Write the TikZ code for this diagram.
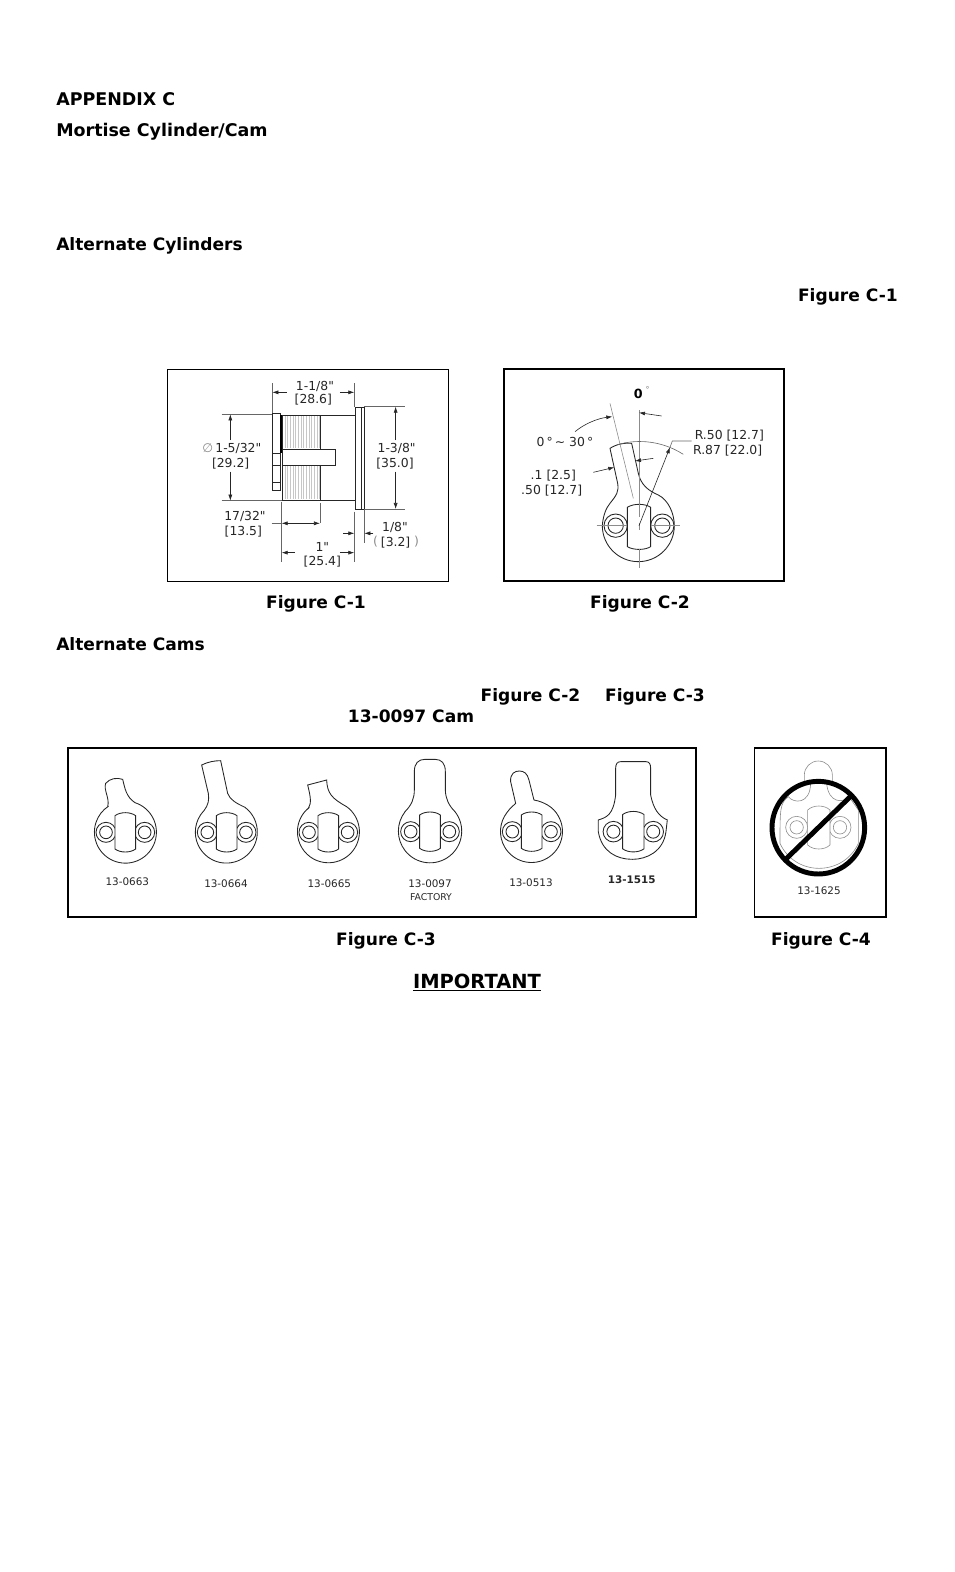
\documentclass[tikz,border=0pt]{standalone}
\usepackage{fontspec}
\setmainfont{DejaVu Sans}
\newfontfamily\dimfont{DejaVu Sans}
\usetikzlibrary{arrows.meta}
\tikzset{
	headtext/.style={font=\fontsize{12.8}{15}\selectfont\bfseries, inner sep=0pt},
	bighead/.style={font=\fontsize{13.1}{15}\selectfont\bfseries, inner sep=0pt},
	dimtext/.style={font=\dimfont\fontsize{9.3}{11}\selectfont, text=black!85, inner sep=0pt},
	camtext/.style={font=\fontsize{7.8}{9}\selectfont, text=black!85, inner sep=0pt},
	frameline/.style={draw=black, line width=1.1pt},
	partline/.style={draw=black!85, line width=0.65pt},
	dimline/.style={draw=black!60, line width=0.45pt},
	dimarrow/.style={draw=black!85, line width=0.45pt, -{Latex[length=4.5pt,width=3pt]}},
	hairline/.style={draw=black!45, line width=0.45pt},
	camcore/.pic={
		\draw[partline] (-58,0) circle [radius=30];
		\draw[partline] (-58,0) circle [radius=19];
		\draw[partline] (58,0) circle [radius=30];
		\draw[partline] (58,0) circle [radius=19];
		\draw[partline, fill=white] (-31,-50) .. controls (-15,-62) and (15,-62) .. (31,-50) -- (31,50) .. controls (15,62) and (-15,62) .. (-31,50) -- cycle;
	}
}

\begin{document}
\begin{tikzpicture}[x=0.75pt, y=-0.75pt]
	\useasboundingbox (0,0) rectangle (954,1572);

	% Page headings
	\node[bighead, anchor=base west] (appendix) at (56,105) {APPENDIX C};
	\node[bighead, anchor=base west] (mortise) at (56,136.5) {Mortise Cylinder/Cam};
	\node[headtext, anchor=base west] (altcyl) at (56,250) {Alternate Cylinders};
	\node[headtext, anchor=base east] (refone) at (898,301) {Figure C-1};
	\node[headtext, anchor=base] (capone) at (316,608) {Figure C-1};
	\node[headtext, anchor=base] (captwo) at (640,608) {Figure C-2};
	\node[headtext, anchor=base west] (altcams) at (56,650) {Alternate Cams};
	\node[headtext, anchor=base] (reftwo) at (530.5,701) {Figure C-2};
	\node[headtext, anchor=base] (refthree) at (655,701) {Figure C-3};
	\node[headtext, anchor=base] (refcam) at (411,722) {13-0097 Cam};
	\node[headtext, anchor=base] (capthree) at (386,945) {Figure C-3};
	\node[headtext, anchor=base] (capfour) at (821,945) {Figure C-4};
	\node[headtext, font=\fontsize{14.6}{17}\selectfont\bfseries, anchor=base] (important) at (477,988) {\underline{IMPORTANT}};

	% Figure C-1, cylinder
	\begin{scope}[shift={(160,360)}, scale=0.3333]
		\draw[frameline] (22,28) rectangle (866,665);
		%threads
		\foreach \tx in {375,383,...,479} {
			\draw[hairline, black!22] (\tx,168) -- (\tx,265);
			\draw[hairline, black!22] (\tx,318) -- (\tx,417);
		}
		%cylinder body
		\draw[partline] (367,165) -- (585,165);
		\draw[partline] (367,420) -- (585,420);
		\draw[partline] (367,165) -- (367,420);
		\draw[partline] (482,165) -- (482,268);
		\draw[partline] (482,315) -- (482,420);
		\draw[partline] (367,268) -- (527,268) -- (527,315) -- (367,315);
		%left flange
		\draw[partline] (337,160) -- (362,160) -- (362,392) -- (337,392) -- cycle;
		\draw[partline] (337,280) -- (362,280);
		\draw[partline] (337,315) -- (362,315);
		\draw[partline] (337,368) -- (362,368);
		\draw[black, line width=1.2pt] (363,165) -- (363,280);
		%right flange
		\draw[partline] (585,142) -- (612,142) -- (612,447) -- (585,447) -- cycle;
		\draw[partline] (605,142) -- (605,447);
		%extension lines
		\draw[dimline] (185,163) -- (337,163);
		\draw[dimline] (185,422) -- (367,422);
		\draw[dimline] (337,70) -- (337,160);
		\draw[dimline] (583,70) -- (583,140);
		\draw[dimline] (612,140) -- (735,140);
		\draw[dimline] (612,447) -- (735,447);
		\draw[dimline] (365,425) -- (365,605);
		\draw[dimline] (480,430) -- (480,490);
		\draw[dimline] (583,455) -- (583,605);
		\draw[dimline] (613,450) -- (613,548);
		%dimension arrows
		\draw[dimarrow] (380,97) -- (337,97);
		\draw[dimarrow] (540,97) -- (583,97);
		\draw[dimarrow] (211,240) -- (211,163);
		\draw[dimarrow] (211,335) -- (211,422);
		\draw[dimarrow] (707,240) -- (707,140);
		\draw[dimarrow] (707,335) -- (707,447);
		\draw[dimline] (335,490) -- (365,490);
		\draw[dimarrow] (420,490) -- (365,490);
		\draw[dimarrow] (420,490) -- (480,490);
		\draw[dimarrow] (405,578) -- (365,578);
		\draw[dimarrow] (540,578) -- (583,578);
		\draw[dimarrow] (550,520) -- (583,520);
		\draw[dimarrow] (640,520) -- (613,520);
		%labels
		\node[dimtext] (widthtop) at (465,78) {1-1/8"};
		\node[dimtext] (widthbot) at (460,120) {[28.6]};
		\node[dimtext, text=black!45] (diasign) at (143,263) {∅};
		\node[dimtext] (diatop) at (235,265) {1-5/32"};
		\node[dimtext] (diabot) at (212,310) {[29.2]};
		\node[dimtext] (flangetop) at (710,265) {1-3/8"};
		\node[dimtext] (flangebot) at (705,310) {[35.0]};
		\node[dimtext] (threadtop) at (255,470) {17/32"};
		\node[dimtext] (threadbot) at (250,515) {[13.5]};
		\node[dimtext] (bodytop) at (487,560) {1"};
		\node[dimtext] (bodybot) at (487,605) {[25.4]};
		\node[dimtext] (thicktop) at (705,503) {1/8"};
		\node[dimtext] (thickbot) at (707,548) {[3.2]};
		\node[dimtext, text=black!45] (thickleft) at (647,545) {(};
		\node[dimtext, text=black!45] (thickright) at (770,545) {)};
	\end{scope}

	% Figure C-2, cam dimensions
	\begin{scope}[shift={(495,360)}, scale=0.3333]
		\draw[frameline, line width=1.4pt] (28,28) rectangle (868,663);
		\draw[partline] (345,430) .. controls (365,405) and (372,395) .. (368,370) -- (345,265) .. controls (365,252) and (390,248) .. (410,250) -- (430,340) .. controls (438,375) and (460,392) .. (490,405) .. controls (520,420) and (538,460) .. (538,497) arc [start angle=0, end angle=90, radius=108] arc [start angle=90, end angle=180, radius=108] .. controls (324,470) and (332,445) .. (345,430);
		\draw[partline] (362,497) circle [radius=35];
		\draw[partline] (362,497) circle [radius=23];
		\draw[partline] (502,497) circle [radius=35];
		\draw[partline] (502,497) circle [radius=23];
		\draw[partline, fill=white] (397,442) .. controls (415,430) and (450,430) .. (467,442) -- (467,560) .. controls (450,571) and (415,571) .. (397,560) -- cycle;
		\draw[hairline] (432,150) -- (432,470);
		\draw[hairline] (432,490) -- (432,510);
		\draw[hairline] (432,568) -- (432,625);
		\draw[hairline] (305,497) -- (397,497);
		\draw[hairline] (467,497) -- (555,497);
		\draw[hairline] (345,130) -- (415,415);
		\draw[dimline] (365,255) .. controls (410,240) and (490,235) .. (565,283);
		\draw[dimarrow] (432,497) -- (525,262);
		\draw[dimline] (525,262) -- (532,243) -- (590,243);
		\draw[dimarrow] (240,215) .. controls (270,190) and (310,175) .. (352,170);
		\draw[dimarrow] (500,168) -- (432,158);
		\draw[dimarrow] (295,337) -- (358,322);
		\draw[dimarrow] (475,295) -- (420,303);
		\node[dimtext, font=\fontsize{9.5}{11}\selectfont\bfseries, text=black] (zeroval) at (430,102) {0};
		\node[dimtext, font=\fontsize{6}{7}\selectfont, text=black!50] (zerodeg) at (458,88) {°};
		\node[dimtext] (anglerange) at (210,247) {0\,°\,{\textasciitilde} 30\,°};
		\node[dimtext] (radiusin) at (703,226) {R.50 [12.7]};
		\node[dimtext] (radiusout) at (698,272) {R.87 [22.0]};
		\node[dimtext] (armwidth) at (175,347) {.1 [2.5]};
		\node[dimtext] (armwide) at (170,392) {.50 [12.7]};
	\end{scope}

	% Figure C-3, cams
	\draw[frameline] (68,748) rectangle (696,917);
	\begin{scope}[shift={(60,740)}, scale=0.3333]
		%13-0663
		\draw[partline] (143,200) .. controls (150,175) and (130,150) .. (137,130) .. controls (150,115) and (170,112) .. (188,118) .. controls (195,145) and (198,170) .. (225,188) arc [start angle=-72, end angle=237, radius=93] -- cycle;
		\pic[transform shape] at (196,277) {camcore};
		\node[camtext] (camone) at (202,425) {13-0663};
		%13-0664
		\draw[partline] (432,212) .. controls (445,195) and (448,180) .. (445,160) -- (425,75) .. controls (445,65) and (465,62) .. (482,62) -- (503,160) .. controls (510,180) and (530,190) .. (555,202) arc [start angle=-53, end angle=223, radius=93] -- cycle;
		\pic[transform shape] at (500,277) {camcore};
		\node[camtext] (camtwo) at (498,432) {13-0664};
		%13-0665
		\draw[partline] (745,205) .. controls (755,190) and (752,170) .. (743,135) -- (800,120) .. controls (802,160) and (815,175) .. (860,200) arc [start angle=-54, end angle=232, radius=93] -- cycle;
		\pic[transform shape] at (805,277) {camcore};
		\node[camtext] (camthree) at (808,430) {13-0665};
	\end{scope}
	\begin{scope}[shift={(380,740)}, scale=0.3333]
		%13-0097
		\draw[partline] (75,215) .. controls (95,195) and (103,175) .. (103,150) -- (103,95) .. controls (103,70) and (115,58) .. (135,58) -- (165,58) .. controls (185,58) and (196,70) .. (196,95) -- (196,150) .. controls (197,175) and (205,195) .. (225,215) arc [start angle=-38, end angle=218, radius=95] -- cycle;
		\pic[transform shape] at (150,275) {camcore};
		\node[camtext] (camfour) at (150,430) {13-0097};
		\node[camtext, font=\fontsize{7}{9}\selectfont] (camfactory) at (153,470) {FACTORY};
		%13-0513
		\draw[partline] (390,206) -- (407,190) -- (392,125) .. controls (390,100) and (405,93) .. (418,93) .. controls (432,93) and (442,100) .. (447,120) -- (462,180) .. controls (490,185) and (520,200) .. (535,228) arc [start angle=-30, end angle=218, radius=93] -- cycle;
		\pic[transform shape] at (455,275) {camcore};
		\node[camtext] (camfive) at (453,427) {13-0513};
		%13-1515
		\draw[partline] (655,240) .. controls (680,232) and (700,225) .. (707,165) -- (707,85) .. controls (707,72) and (712,65) .. (722,65) -- (798,65) .. controls (808,65) and (812,72) .. (812,85) -- (812,165) .. controls (820,205) and (835,228) .. (862,240) -- (858,275) .. controls (850,335) and (800,358) .. (757,358) .. controls (710,358) and (665,335) .. (655,275) -- cycle;
		\pic[transform shape, scale=1.03] at (760,275) {camcore};
		\node[camtext, font=\fontsize{7.8}{9}\selectfont\bfseries] (camsix) at (755,420) {13-1515};
	\end{scope}

	% Figure C-4, cam with prohibition sign
	\draw[frameline] (754.5,748) rectangle (886,917);
	\begin{scope}[shift={(745,740)}, scale=0.3333]
		\draw[hairline] (178,125) -- (178,105) arc [start angle=180, end angle=360, radius=42] -- (262,125);
		\draw[hairline] (130,170) .. controls (145,190) and (195,195) .. (197,130);
		\draw[hairline] (245,130) .. controls (250,190) and (295,190) .. (312,170);
		\draw[hairline] (130,170) .. controls (105,190) and (105,205) .. (105,310) .. controls (125,355) and (170,385) .. (222,385) .. controls (275,385) and (320,355) .. (340,310) -- (340,210) -- (312,170);
		\draw[hairline] (155,262) circle [radius=33];
		\draw[hairline] (155,262) circle [radius=20];
		\draw[hairline] (285,262) circle [radius=33];
		\draw[hairline] (285,262) circle [radius=20];
		\draw[hairline, fill=white] (188,210) .. controls (205,194) and (238,194) .. (255,210) -- (255,315) .. controls (238,331) and (205,331) .. (188,315) -- cycle;
		\draw[black, line width=3.7pt] (220,263) circle [radius=139];
		\draw[black, line width=3.7pt] (122,358) -- (320,166);
		\node[camtext] (camseven) at (222,453) {13-1625};
	\end{scope}
\end{tikzpicture}
\end{document}
